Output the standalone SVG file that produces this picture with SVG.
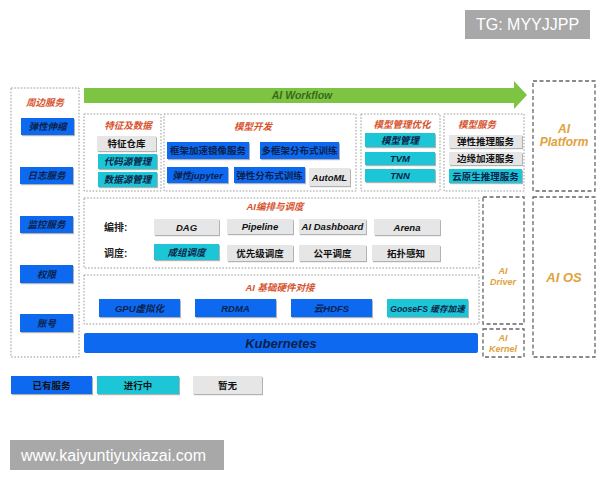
<svg xmlns="http://www.w3.org/2000/svg" width="600" height="480" viewBox="0 0 600 480">
<defs>
<filter id="sh" x="-10%" y="-20%" width="130%" height="160%">
<feDropShadow dx="1" dy="1.2" stdDeviation="0.7" flood-color="#555" flood-opacity="0.45"/>
</filter>
</defs>
<style>
.dot{fill:none;stroke:#9a9a9a;stroke-width:1;stroke-dasharray:1.6 1.6}
.dash{fill:none;stroke:#666;stroke-width:1.3;stroke-dasharray:4 2.5}
.b{fill:#0d6af0;filter:url(#sh)}
.c{fill:#1cc6d6;filter:url(#sh)}
.g{fill:#e6e6e6;filter:url(#sh)}
.t{font-family:"Liberation Sans","Noto Sans CJK SC",sans-serif;font-size:9.5px;font-weight:bold;font-style:italic;text-anchor:middle;fill:#0c1f4a}
.tk{font-family:"Liberation Sans","Noto Sans CJK SC",sans-serif;font-size:9.5px;font-weight:bold;font-style:italic;text-anchor:middle;fill:#111}
.n{font-style:normal}
.h{font-family:"Liberation Sans","Noto Sans CJK SC",sans-serif;font-size:9.5px;font-weight:bold;font-style:italic;text-anchor:middle;fill:#d6532e}
.o{font-family:"Liberation Sans","Noto Sans CJK SC",sans-serif;font-weight:bold;font-style:italic;text-anchor:middle;fill:#e0a23a}
.lab{font-family:"Liberation Sans","Noto Sans CJK SC",sans-serif;font-size:10px;font-weight:bold;fill:#222}
.wm{font-family:"Liberation Sans","Noto Sans",sans-serif;font-size:16px;fill:#fff}
</style>
<rect width="600" height="480" fill="#fff"/>

<g id="watermark-tg">
<rect x="465" y="10" width="125" height="29" fill="#a8a8a8"/>
<text class="wm" x="527.5" y="30" text-anchor="middle">TG: MYYJJPP</text>
</g>

<g id="connectors">
<g id="workflow">
<polygon points="84,88 514,88 514,81 527,95 514,109 514,103 84,103" fill="#7dc443"/>
<text x="302" y="99" font-family="Liberation Sans,sans-serif" font-size="10.5" font-style="italic" font-weight="bold" text-anchor="middle" fill="#3a6a1c">AI Workflow</text>
</g>
</g>

<g id="peripheral">
<rect class="dot" x="11" y="88" width="68" height="269"/>
<text class="h" x="45" y="106">周边服务</text>
<rect class="b" x="21" y="118" width="53" height="17"/><text class="t" x="47.5" y="130">弹性伸缩</text>
<rect class="b" x="20" y="167" width="53" height="17"/><text class="t" x="46.5" y="179">日志服务</text>
<rect class="b" x="20" y="216" width="53" height="17"/><text class="t" x="46.5" y="228">监控服务</text>
<rect class="b" x="20" y="265" width="53" height="18"/><text class="t" x="46.5" y="277.5">权限</text>
<rect class="b" x="20" y="314" width="53" height="18"/><text class="t" x="46.5" y="326.5">账号</text>
</g>

<g id="feature">
<rect class="dot" x="84" y="114" width="77" height="77"/>
<text class="h" x="128" y="129">特征及数据</text>
<rect class="g" x="97" y="136" width="59" height="15"/><text class="tk n" x="126.5" y="147">特征仓库</text>
<rect class="c" x="98" y="154" width="59" height="15"/><text class="t" x="127.5" y="165">代码源管理</text>
<rect class="c" x="98" y="172" width="59" height="15"/><text class="t" x="127.5" y="183">数据源管理</text>
</g>

<g id="modeldev">
<rect class="dot" x="164" y="114" width="192" height="77"/>
<text class="h" x="253" y="130">模型开发</text>
<rect class="b" x="167" y="142" width="82" height="17"/><text class="t n" x="208" y="154">框架加速镜像服务</text>
<rect class="b" x="260" y="142" width="79" height="17"/><text class="t n" x="299.5" y="154">多框架分布式训练</text>
<rect class="b" x="167" y="167" width="61" height="16"/><text class="t" x="197.5" y="179">弹性jupyter</text>
<rect class="b" x="234" y="167" width="71" height="16"/><text class="t n" x="269.5" y="179">弹性分布式训练</text>
<rect class="g" x="309" y="168" width="41" height="18"/><text class="tk" x="329.5" y="180.5">AutoML</text>
</g>

<g id="modelmgmt">
<rect class="dot" x="361" y="114" width="79" height="77"/>
<text class="h" x="402" y="128">模型管理优化</text>
<rect class="c" x="365" y="133" width="70" height="14"/><text class="t" x="400" y="143.5">模型管理</text>
<rect class="c" x="365" y="152" width="70" height="13"/><text class="t" x="400" y="162">TVM</text>
<rect class="c" x="365" y="169" width="70" height="13"/><text class="t" x="400" y="179">TNN</text>
</g>

<g id="modelserve">
<rect class="dot" x="444" y="114" width="80" height="77"/>
<text class="h" x="477" y="128">模型服务</text>
<rect class="g" x="449" y="135" width="73" height="13"/><text class="tk n" x="485.5" y="145">弹性推理服务</text>
<rect class="g" x="449" y="152" width="73" height="13"/><text class="tk n" x="485.5" y="162">边缘加速服务</text>
<rect class="c" x="449" y="169" width="73" height="14"/><text class="t n" x="485.5" y="179.5">云原生推理服务</text>
</g>

<g id="platform">
<rect class="dash" x="533" y="81" width="62" height="110"/>
<text class="o" x="564" y="133" font-size="12">AI</text>
<text class="o" x="564" y="146" font-size="12">Platform</text>
</g>

<g id="orchestration">
<rect class="dot" x="84" y="198" width="395" height="70"/>
<text class="h" x="275" y="210">AI编排与调度</text>
<text class="lab" x="104" y="231">编排:</text>
<text class="lab" x="104" y="257">调度:</text>
<rect class="g" x="154" y="219" width="65" height="16"/><text class="tk" x="186.5" y="230.5">DAG</text>
<rect class="g" x="227" y="219" width="66" height="15"/><text class="tk" x="260" y="230">Pipeline</text>
<rect class="g" x="299" y="219" width="67" height="15"/><text class="tk" x="332.5" y="230">AI Dashboard</text>
<rect class="g" x="374" y="219" width="66" height="16"/><text class="tk" x="407" y="230.5">Arena</text>
<rect class="c" x="154" y="244" width="65" height="16"/><text class="t" x="186.5" y="255.5">成组调度</text>
<rect class="g" x="227" y="245" width="66" height="16"/><text class="tk n" x="260" y="256.5">优先级调度</text>
<rect class="g" x="299" y="245" width="67" height="16"/><text class="tk n" x="332.5" y="256.5">公平调度</text>
<rect class="g" x="372" y="245" width="68" height="16"/><text class="tk n" x="406" y="256.5">拓扑感知</text>
</g>

<g id="hardware">
<rect class="dot" x="84" y="275" width="395" height="49"/>
<text class="h" x="280" y="291">AI 基础硬件对接</text>
<rect class="b" x="99" y="299" width="81" height="18"/><text class="t" x="139.5" y="311.5">GPU虚拟化</text>
<rect class="b" x="195" y="299" width="81" height="18"/><text class="t" x="235.5" y="311.5">RDMA</text>
<rect class="b" x="291" y="299" width="81" height="18"/><text class="t" x="331.5" y="311.5">云HDFS</text>
<rect class="c" x="387" y="299" width="81" height="18"/><text class="t" x="427.5" y="311.5" style="font-size:8.6px">GooseFS 缓存加速</text>
</g>

<g id="kubernetes">
<rect x="84" y="333" width="394" height="20" rx="2" fill="#0d6af0"/>
<text class="t" x="281" y="347.5" style="font-size:13px">Kubernetes</text>
</g>

<g id="driver">
<rect class="dash" x="483" y="197" width="41" height="127"/>
<text class="o" x="503" y="274" font-size="9">AI</text>
<text class="o" x="503" y="285" font-size="9">Driver</text>
</g>

<g id="kernel">
<rect class="dash" x="483" y="329" width="41" height="28"/>
<text class="o" x="503" y="341" font-size="9">AI</text>
<text class="o" x="503" y="352" font-size="9">Kernel</text>
</g>

<g id="aios">
<rect class="dash" x="533" y="197" width="62" height="160"/>
<text class="o" x="564" y="282" font-size="13">AI OS</text>
</g>

<g id="legend">
<rect class="b" x="11" y="376" width="81" height="18"/><text class="t n" x="51.5" y="388.5" style="fill:#111">已有服务</text>
<rect class="c" x="97" y="376" width="82" height="18"/><text class="t n" x="138" y="388.5" style="fill:#111">进行中</text>
<rect class="g" x="193" y="376" width="69" height="18"/><text class="tk n" x="227.5" y="388.5">暂无</text>
</g>

<g id="watermark-url">
<rect x="10" y="440" width="214" height="30" fill="#a8a8a8"/>
<text class="wm" x="21" y="461">www.kaiyuntiyuxiazai.com</text>
</g>
</svg>
